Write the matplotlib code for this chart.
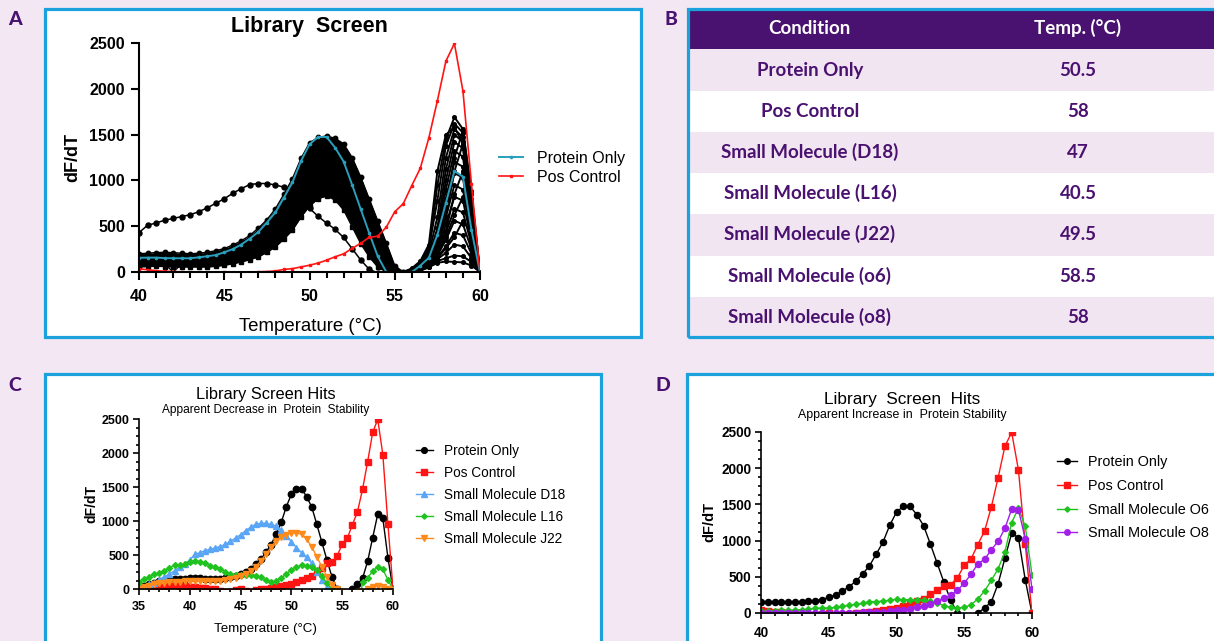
import numpy as np
import matplotlib
matplotlib.use('Agg')
import matplotlib.pyplot as plt
from matplotlib.patches import Rectangle
from matplotlib.ticker import MultipleLocator

plt.rcParams['font.family'] = ['Liberation Sans', 'DejaVu Sans']

# ---------------- data ----------------
temps = np.arange(35.0, 60.01, 0.5)          # 35 .. 60 °C, 0.5 °C steps

protein_only = [0, 44, 69, 93, 113, 127, 142, 147, 147, 145,
                155, 157, 157, 152, 150, 150, 150, 160, 172, 185,
                215, 250, 300, 365, 437, 540, 650, 812, 978, 1211,
                1393, 1474, 1474, 1358, 1206, 952, 688, 425, 173, 2,
                -80, -100, -2, 70, 155, 405, 755, 1102, 1040, 460, -5]

pos_control = [-30, 5, 10, 20, 30, 45, 55, 58, 50, 45,
               35, 25, 15, 8, 5, 2, -30, -40, -40, -10,
               2, -30, -40, -20, 3, 5, 12, 28, 37, 55,
               74, 97, 129, 166, 198, 258, 313, 378, 391, 488,
               658, 746, 944, 1133, 1464, 1869, 2302, 2495, 1975, 958, -5]

sm_d18 = [0, 34, 69, 95, 132, 181, 221, 270, 319, 363,
          430, 510, 535, 565, 585, 605, 625, 658, 700, 750,
          799, 860, 910, 955, 966, 966, 950, 926, 868, 784,
          696, 608, 534, 466, 377, 255, 132, 30, -10, -80,
          -100, -100, -100, -100, -100, -100, -100, -100, -100, -100, -100]

sm_l16 = [103, 147, 172, 216, 240, 265, 309, 353, 358, 363,
          397, 417, 402, 377, 343, 319, 289, 255, 221, 211,
          206, 211, 206, 191, 172, 132, 98, 123, 162, 221,
          279, 319, 353, 338, 328, 279, 196, 83, 0, -60,
          -100, -100, -300, -400, 98, 167, 260, 328, 294, 132, 0]

sm_j22 = [0, 24, 49, 68, 83, 93, 98, 103, 103, 113,
          118, 118, 113, 113, 113, 118, 123, 132, 147, 167,
          186, 221, 270, 328, 417, 510, 613, 711, 760, 794,
          824, 824, 804, 730, 623, 475, 328, 181, 59, 0,
          -50, -60, -60, -50, -40, 0, 24, 44, 34, 0, -20]

temps_o = np.arange(40.0, 60.01, 0.5)        # 40 .. 60 °C

sm_o6 = [23, 28, 32, 35, 37, 41, 46, 55, 64, 69,
         69, 78, 92, 106, 120, 134, 157, 157, 166, 175,
         189, 184, 184, 180, 180, 166, 138, 101, 78, 69,
         78, 115, 193, 304, 451, 612, 843, 1248, 1450, 1197, 529]

sm_o8 = [5, 5, 3, 3, 3, 3, 3, 3, 3, 5,
         5, 5, 5, 5, 5, 8, 14, 14, 18, 23,
         37, 46, 55, 83, 92, 120, 161, 203, 244, 313,
         414, 534, 681, 741, 875, 990, 1169, 1436, 1427, 1027, 336]

# library screen (panel A): envelope of the dense first transition
screen_temps = np.arange(40.0, 55.51, 0.5)
screen_upper = [200, 205, 212, 215, 212, 205, 200, 205, 216, 232,
                256, 295, 340, 400, 480, 570, 690, 850, 1020, 1240,
                1410, 1470, 1485, 1460, 1400, 1250, 1040, 800, 560, 320,
                70, 0]
screen_lower = [55, 60, 62, 60, 55, 55, 55, 55, 55, 62,
                73, 90, 110, 135, 165, 215, 274, 360, 457, 600,
                720, 800, 830, 786, 677, 494, 311, 165, 55, 0,
                0, 0]
# library screen: individual wells of the second transition
peak2_temps = [55.5, 56, 56.5, 57, 57.5, 58, 58.5, 59, 59.5, 60]
screen_peak2 = [
    [0, 20, 90, 230, 950, 1450, 1690, 1560, 850, 0],
    [0, 30, 100, 260, 780, 1380, 1620, 1520, 760, 0],
    [0, 40, 120, 300, 1100, 1500, 1580, 1400, 650, 0],
    [0, 20, 70, 200, 600, 1250, 1560, 1470, 700, 0],
    [0, 15, 60, 170, 480, 1120, 1500, 1420, 640, 0],
    [0, 10, 40, 130, 300, 700, 1250, 1540, 880, 0],
    [0, 10, 50, 150, 420, 1000, 1420, 1350, 580, 0],
    [0, 10, 45, 140, 380, 900, 1320, 1260, 520, 0],
    [0, 10, 35, 110, 260, 600, 1100, 1400, 800, 0],
    [0, 10, 40, 125, 330, 800, 1200, 1150, 470, 0],
    [0, 8, 35, 115, 290, 700, 1080, 1030, 420, 0],
    [0, 5, 30, 105, 260, 600, 950, 900, 380, 0],
    [0, 5, 30, 95, 220, 450, 850, 1100, 700, 0],
    [0, 5, 28, 100, 230, 520, 820, 780, 340, 0],
    [0, 5, 25, 90, 200, 430, 690, 650, 300, 0],
    [0, 5, 22, 85, 190, 380, 620, 820, 560, 0],
    [0, 5, 22, 80, 180, 350, 560, 520, 250, 0],
    [0, 5, 20, 70, 160, 280, 430, 400, 200, 0],
    [0, 5, 20, 70, 150, 260, 380, 560, 420, 0],
    [0, 5, 18, 60, 140, 210, 300, 280, 150, 0],
    [0, 5, 15, 55, 120, 150, 180, 170, 110, 0],
    [0, 5, 15, 50, 100, 115, 110, 105, 70, 0],
]
dip_temps = [41, 41.5, 42, 42.5, 43]
screen_dip = [100, 90, 0, 85, 100]

# table (panel B)
conditions = ['Protein Only', 'Pos Control', 'Small Molecule (D18)',
              'Small Molecule (L16)', 'Small Molecule (J22)',
              'Small Molecule (o6)', 'Small Molecule (o8)']
tm_values = ['50.5', '58', '47', '40.5', '49.5', '58.5', '58']
table_header = ['Condition', 'Temp. (°C)']

# ---------------- style ----------------
W, H = 1214, 641
BG = '#f3e7f3'
ROW = '#f2e5f2'
BLUE = '#1ba1dc'
PURPLE = '#4a1270'
TEAL = '#2a9fbc'
RED = '#ff1414'
LBLUE = '#5aa5f5'
GREEN = '#1fc21f'
ORANGE = '#ff8a1c'
VIOLET = '#a21fe8'

fig = plt.figure(figsize=(W / 100, H / 100), dpi=100)
fig.patch.set_facecolor(BG)


def fx(x):
    return x / W


def fy(y):
    return 1 - y / H


def box(x0, y0, x1, y1):
    return [x0 / W, 1 - y1 / H, (x1 - x0) / W, (y1 - y0) / H]


def panel(x0, y0, x1, y1):
    fig.add_artist(Rectangle((fx(x0), fy(y1)), (x1 - x0) / W, (y1 - y0) / H,
                             transform=fig.transFigure, facecolor='white',
                             edgecolor='none', zorder=-2))
    fig.add_artist(Rectangle((fx(x0), fy(y1)), (x1 - x0) / W, (y1 - y0) / H,
                             transform=fig.transFigure, facecolor='none',
                             edgecolor=BLUE, lw=2.3, zorder=5))


def ftext(x, y, s, **kw):
    kw.setdefault('ha', 'center')
    kw.setdefault('va', 'baseline')
    fig.text(fx(x), fy(y), s, **kw)


def style_axes(ax, xlim, lw, ticklen, minorlen, labelsize, padx, pady, yminor):
    ax.set_facecolor('none')
    ax.set_xlim(*xlim)
    ax.set_ylim(0, 2500)
    for s in ['top', 'right']:
        ax.spines[s].set_visible(False)
    for s in ['left', 'bottom']:
        ax.spines[s].set_linewidth(lw)
    ax.xaxis.set_major_locator(MultipleLocator(5))
    ax.xaxis.set_minor_locator(MultipleLocator(1))
    ax.yaxis.set_major_locator(MultipleLocator(500))
    if yminor:
        ax.yaxis.set_minor_locator(MultipleLocator(125))
    ax.tick_params(which='major', direction='out', length=ticklen, width=lw,
                   labelsize=labelsize)
    ax.tick_params(which='minor', direction='out', length=minorlen, width=lw)
    ax.tick_params(axis='x', which='major', pad=padx)
    ax.tick_params(axis='y', which='major', pad=pady)
    for t in ax.get_xticklabels() + ax.get_yticklabels():
        t.set_fontweight('bold')


panel(45, 9, 641, 337.3)
panel(688, 8.7, 1222, 337.3)
panel(45, 374.3, 601.3, 660)
panel(687.2, 374.3, 1222, 660)

# panel letters
for (x, y, s) in [(15, 25, 'A'), (671, 25, 'B'), (15, 390.7, 'C'), (663, 390.7, 'D')]:
    ftext(x, y, s, family='Lato', fontweight='black', fontsize=14, color=PURPLE)

# ---------------- panel A ----------------
axA = fig.add_axes(box(139, 43, 480, 272))
axA.fill_between(screen_temps, screen_lower, screen_upper, color='black', lw=0, zorder=1)
axA.plot(screen_temps, screen_upper, '-o', color='black', ms=3.2, lw=1, zorder=1.5)
axA.plot(screen_temps, screen_lower, '-s', color='black', ms=3.4, lw=1, zorder=1.5)
for curve in screen_peak2:
    axA.plot(peak2_temps, curve, '-o', color='black', ms=2.6, lw=1.4, zorder=1.5)
axA.plot(dip_temps, screen_dip, '-', color='black', lw=1, zorder=1.5)
axA.plot(temps[10:], sm_d18[10:], '-o', color='black', ms=3.6, lw=1.1, zorder=1.6)
axA.plot(temps[10:], protein_only[10:], '-o', color=TEAL, ms=1.6, lw=1.4,
         zorder=2, label='Protein Only')
axA.plot(temps[10:], pos_control[10:], '-s', color=RED, ms=1.6, lw=1.2,
         zorder=2.1, label='Pos Control')
style_axes(axA, (40, 60), 1.5, 6, 4.5, 11.5, 6.5, 4, False)
axA.legend(loc='upper left', bbox_to_anchor=(fx(499), fy(151)),
           bbox_transform=fig.transFigure, frameon=False, fontsize=11.5,
           handlelength=1.5, handletextpad=0.85, labelspacing=0.22,
           borderpad=0, borderaxespad=0)
ftext(309, 31.7, 'Library  Screen', fontsize=15.5, fontweight='bold')
ftext(310, 331.5, 'Temperature (°C)', fontsize=13.4)
fig.text(fx(73), fy(157.5), 'dF/dT', rotation=90, ha='center', va='center',
         fontsize=13, fontweight='bold')

# ---------------- panel B (table) ----------------
fig.add_artist(Rectangle((fx(689), fy(49.3)), (1216 - 689) / W, (49.3 - 9) / H,
                         transform=fig.transFigure, facecolor=PURPLE,
                         edgecolor='none', zorder=-1))
row_edges = [49.3, 90.7, 131.7, 173.3, 214.3, 255.7, 296.7, 336.5]
for i in range(len(conditions)):
    y0, y1 = row_edges[i], row_edges[i + 1]
    fig.add_artist(Rectangle((fx(689), fy(y1)), (1216 - 689) / W, (y1 - y0) / H,
                             transform=fig.transFigure,
                             facecolor=ROW if i % 2 == 0 else 'white',
                             edgecolor='none', zorder=-1))
    base = 76 + i * 41.1
    ftext(810, base, conditions[i], family='Lato', fontweight='bold',
          fontsize=13.5, color=PURPLE)
    ftext(1078, base, tm_values[i], family='Lato', fontweight='bold',
          fontsize=13.5, color=PURPLE)
ftext(809, 34.3, table_header[0], family='Lato', fontweight='bold',
      fontsize=13.5, color='white')
ftext(1078, 34.3, table_header[1], family='Lato', fontweight='bold',
      fontsize=13.5, color='white')

# ---------------- panel C ----------------
axC = fig.add_axes(box(139, 419, 393, 589))
axC.plot(temps, protein_only, '-o', color='black', ms=4.6, lw=1, label='Protein Only')
axC.plot(temps, pos_control, '-s', color=RED, ms=4.4, lw=1, label='Pos Control')
axC.plot(temps, sm_d18, '-^', color=LBLUE, ms=4.4, lw=1, label='Small Molecule D18')
axC.plot(temps, sm_l16, '-D', color=GREEN, ms=3, lw=1, label='Small Molecule L16')
axC.plot(temps, sm_j22, '-v', color=ORANGE, ms=4.4, lw=1, label='Small Molecule J22')
style_axes(axC, (35, 60), 1.2, 4, 2.5, 9, 4.5, 3, True)
axC.legend(loc='upper left', bbox_to_anchor=(fx(415.6), fy(444)),
           bbox_transform=fig.transFigure, frameon=False, fontsize=9.8,
           handlelength=1.26, handletextpad=0.83, labelspacing=0.58,
           borderpad=0, borderaxespad=0, markerscale=0.9)
ftext(266, 399.3, 'Library Screen Hits', fontsize=11.8)
ftext(266, 412.5, 'Apparent Decrease in  Protein  Stability', fontsize=8.6)
ftext(266, 632.3, 'Temperature (°C)', fontsize=9.6)
fig.text(fx(91), fy(504), 'dF/dT', rotation=90, ha='center', va='center',
         fontsize=10, fontweight='bold')

# ---------------- panel D ----------------
axD = fig.add_axes(box(761, 432, 1032, 613))
axD.plot(temps[10:], protein_only[10:], '-o', color='black', ms=4.4, lw=1, label='Protein Only')
axD.plot(temps[10:], pos_control[10:], '-s', color=RED, ms=4.4, lw=1, label='Pos Control')
axD.plot(temps_o, sm_o6, '-D', color=GREEN, ms=3, lw=1, label='Small Molecule O6')
axD.plot(temps_o, sm_o8, '-o', color=VIOLET, ms=4.4, lw=1, label='Small Molecule O8')
style_axes(axD, (40, 60), 1.2, 4, 2.5, 9.8, 5.5, 3, True)
axD.legend(loc='upper left', bbox_to_anchor=(fx(1057), fy(455)),
           bbox_transform=fig.transFigure, frameon=False, fontsize=10.4,
           handlelength=1.39, handletextpad=0.76, labelspacing=0.68,
           borderpad=0, borderaxespad=0, markerscale=0.9)
ftext(902, 404, 'Library  Screen  Hits', fontsize=12.4)
ftext(902, 418.3, 'Apparent Increase in  Protein Stability', fontsize=8.9)
fig.text(fx(709.5), fy(522.5), 'dF/dT', rotation=90, ha='center', va='center',
         fontsize=10.5, fontweight='bold')

fig.savefig('out.png', dpi=100, facecolor=BG)
